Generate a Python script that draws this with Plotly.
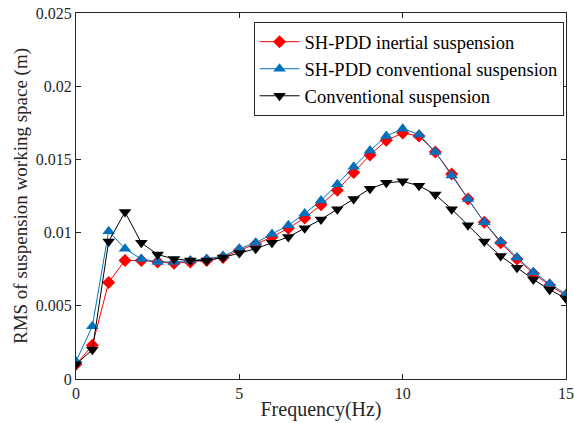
import plotly.graph_objects as go

freq = [i * 0.5 for i in range(31)]

inertial = [1.0, 2.3, 6.6, 8.1, 8.1, 8.0, 7.9, 8.0, 8.1, 8.3, 8.8, 9.2, 9.7, 10.3, 11.0, 11.9,
            12.9, 14.1, 15.3, 16.3, 16.8, 16.6, 15.5, 14.0, 12.3, 10.7, 9.3, 8.2, 7.2, 6.4, 5.7]
sh_conv = [1.2, 3.6, 10.1, 8.9, 8.2, 8.0, 8.0, 8.1, 8.2, 8.4, 8.9, 9.3, 9.9, 10.5, 11.3, 12.2,
           13.3, 14.5, 15.6, 16.6, 17.1, 16.7, 15.5, 13.9, 12.3, 10.7, 9.4, 8.3, 7.3, 6.5, 5.8]
conventional = [1.0, 2.0, 9.4, 11.4, 9.3, 8.5, 8.2, 8.1, 8.1, 8.3, 8.6, 8.9, 9.3, 9.7, 10.3, 10.9,
                11.6, 12.3, 13.0, 13.4, 13.5, 13.2, 12.6, 11.6, 10.5, 9.4, 8.4, 7.6, 6.8, 6.1, 5.5]

names = ["SH-PDD inertial suspension", "SH-PDD conventional suspension", "Conventional suspension"]
series = [inertial, sh_conv, conventional]
colors = ["#FF0000", "#0072BD", "#000000"]
symbols = ["diamond", "triangle-up", "triangle-down"]
sizes = [10, 11, 11]

fig = go.Figure()
for n, s, c, sym, sz in zip(names, series, colors, symbols, sizes):
    fig.add_trace(go.Scatter(
        x=freq, y=[v / 1000 for v in s], name=n, mode="lines+markers",
        line=dict(color=c, width=1),
        marker=dict(symbol=sym, size=sz, color=c),
    ))

font = "Times New Roman"
axis_common = dict(
    showgrid=False, zeroline=False, showline=True, linecolor="#262626", linewidth=1,
    mirror="allticks", ticks="inside", ticklen=5, tickcolor="#262626", automargin=False,
    tickfont=dict(family=font, size=16, color="#262626"),
)
fig.update_xaxes(range=[0, 15], tickvals=[0, 5, 10, 15],
                 title=dict(text="Frequency(Hz)", font=dict(family=font, size=20, color="#262626"), standoff=0),
                 **axis_common)
fig.update_yaxes(range=[0, 0.025], tickvals=[0, 0.005, 0.01, 0.015, 0.02, 0.025],
                 ticktext=["0", "0.005", "0.01", "0.015", "0.02", "0.025"],
                 title=dict(text="RMS of suspension working space (m)", font=dict(family=font, size=19, color="#262626"), standoff=3),
                 **axis_common)

fig.update_layout(
    width=574, height=423,
    margin=dict(l=76, r=8, t=13, b=44),
    plot_bgcolor="white", paper_bgcolor="white",
    showlegend=True,
    legend=dict(x=0.995, y=0.975, xanchor="right", yanchor="top",
                bordercolor="#262626", borderwidth=1, bgcolor="white",
                font=dict(family=font, size=18.5, color="black"),
                tracegroupgap=0, itemwidth=40),
)

fig.write_html("out.html")
